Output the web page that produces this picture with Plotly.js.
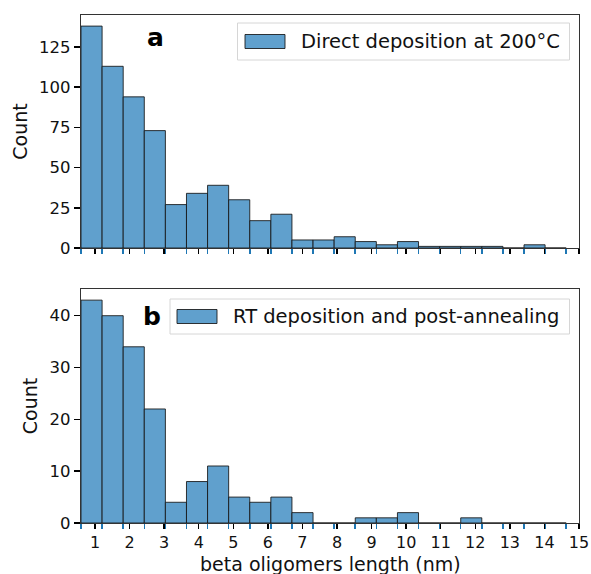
<!DOCTYPE html>
<html>
<head>
<meta charset="utf-8">
<script src="https://cdn.plot.ly/plotly-3.0.1.min.js"></script>
<style>html,body{margin:0;padding:0;background:#fff;}#chart{width:591px;height:574px;}</style>
</head>
<body>
<div id="chart"></div>
<script>
// Histogram bins (shared by both panels)
const binStart = 0.595;
const binWidth = 0.6102;
// Counts per bin
const countsDirect = [138, 113, 94, 73, 27, 34, 39, 30, 17, 21, 5, 5, 7, 4, 2, 4, 1, 1, 1, 1, 0, 2, 0];
const countsRT     = [43, 40, 34, 22, 4, 8, 11, 5, 4, 5, 2, 0, 0, 1, 1, 2, 0, 0, 1, 0, 0, 0, 0];
const seriesNames = ["Direct deposition at 200°C", "RT deposition and post-annealing"];
const panelLabels = ["a", "b"];
const xTicks = [1,2,3,4,5,6,7,8,9,10,11,12,13,14,15];
const yTicksTop = [0, 25, 50, 75, 100, 125];
const yTicksBottom = [0, 10, 20, 30, 40];
const xTitle = "beta oligomers length (nm)";
const yTitle = "Count";

const centers = countsDirect.map((_, i) => binStart + binWidth * (i + 0.5));

const barColor = '#60a0cd';
const edge = {color: 'rgba(20,20,20,0.85)', width: 1};
const FONT = 'DejaVu Sans, Liberation Sans, sans-serif';

const traces = [
  {type: 'bar', x: centers, y: countsDirect, width: binWidth, name: seriesNames[0],
   marker: {color: barColor, line: edge}, xaxis: 'x', yaxis: 'y', showlegend: false, hoverinfo: 'x+y'},
  {type: 'bar', x: centers, y: countsRT, width: binWidth, name: seriesNames[1],
   marker: {color: barColor, line: edge}, xaxis: 'x2', yaxis: 'y2', showlegend: false, hoverinfo: 'x+y'}
];

// pixel -> paper helpers (plot area: x 81..579, y 15..523)
const L = 81, R = 579, T = 15, B = 523;
const px = v => (v - L) / (R - L);
const py = v => (B - v) / (B - T);

const xCommon = {
  range: [binStart, 15],
  tickmode: 'array', tickvals: xTicks,
  ticks: 'outside', ticklen: 5, tickwidth: 1.5, tickcolor: '#000',
  showline: true, linecolor: '#333', linewidth: 1.2, mirror: true,
  showgrid: false, zeroline: false,
  minor: {ticks: 'outside', ticklen: 5, tickwidth: 1.5, tickcolor: '#1f77b4',
          tick0: binStart, dtick: binWidth, showgrid: false},
  tickfont: {family: FONT, size: 16, color: '#111'}
};
const yCommon = {
  ticks: 'outside', ticklen: 6, tickwidth: 1.5, tickcolor: '#000',
  showline: true, linecolor: '#333', linewidth: 1.2, mirror: true,
  showgrid: false, zeroline: false,
  tickfont: {family: FONT, size: 16.5, color: '#111'},
  title: {text: yTitle, font: {family: FONT, size: 19, color: '#111'}, standoff: 6}
};

const shapes = [];
const annotations = [];
function legendBox(x0, x1, y0, y1, pxa, pxb, text, textX) {
  shapes.push({type: 'rect', xref: 'paper', yref: 'paper', x0: px(x0), x1: px(x1), y0: py(y1), y1: py(y0),
               line: {color: '#d6d6d6', width: 1}, fillcolor: 'rgba(255,255,255,0.85)', layer: 'above'});
  const yc = (y0 + y1) / 2;
  shapes.push({type: 'rect', xref: 'paper', yref: 'paper', x0: px(pxa), x1: px(pxb), y0: py(yc + 7), y1: py(yc - 7),
               line: {color: 'rgba(20,20,20,0.85)', width: 1}, fillcolor: barColor, layer: 'above'});
  annotations.push({xref: 'paper', yref: 'paper', x: px(textX), y: py(yc), xanchor: 'left', yanchor: 'middle',
                    text: text, showarrow: false, font: {family: FONT, size: 19.5, color: '#111'}});
}
legendBox(237.5, 569.5, 23, 60, 245, 285, seriesNames[0], 299);
legendBox(170, 569.5, 299, 334, 177, 217, seriesNames[1], 231);

annotations.push({xref: 'paper', yref: 'paper', x: px(155.5), y: py(37), xanchor: 'center', yanchor: 'middle',
                  text: '<b>' + panelLabels[0] + '</b>', showarrow: false, font: {family: FONT, size: 25, color: '#000'}});
annotations.push({xref: 'paper', yref: 'paper', x: px(152), y: py(316), xanchor: 'center', yanchor: 'middle',
                  text: '<b>' + panelLabels[1] + '</b>', showarrow: false, font: {family: FONT, size: 25, color: '#000'}});
// x-axis title placed as text below the tick labels
annotations.push({xref: 'paper', yref: 'paper', x: 0.5, y: py(576), xanchor: 'center', yanchor: 'bottom',
                  text: xTitle, showarrow: false, borderpad: 0, font: {family: FONT, size: 19, color: '#111'}});

const layout = {
  width: 591, height: 574,
  margin: {l: L, r: 591 - R, t: T, b: 574 - B},
  paper_bgcolor: '#fff', plot_bgcolor: '#fff',
  bargap: 0,
  showlegend: false,
  font: {family: FONT, color: '#111'},
  xaxis: Object.assign({}, xCommon, {anchor: 'y', showticklabels: false}),
  yaxis: Object.assign({}, yCommon, {domain: [py(248), 1], range: [0, 144.9], tickvals: yTicksTop}),
  xaxis2: Object.assign({}, xCommon, {anchor: 'y2', matches: 'x'}),
  yaxis2: Object.assign({}, yCommon, {domain: [0, py(289)], range: [0, 45.15], tickvals: yTicksBottom}),
  shapes: shapes,
  annotations: annotations
};

Plotly.newPlot('chart', traces, layout, {displayModeBar: false, staticPlot: true});
</script>
</body>
</html>
